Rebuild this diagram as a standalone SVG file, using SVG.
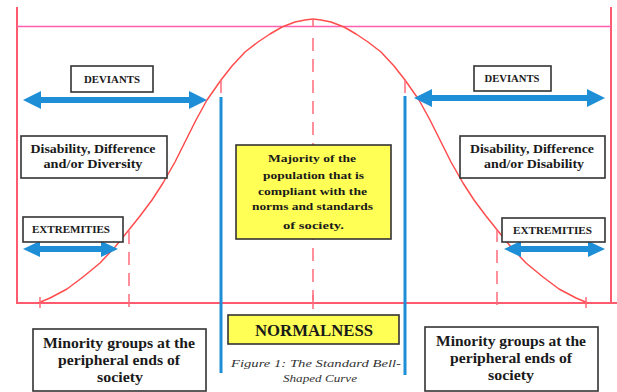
<svg xmlns="http://www.w3.org/2000/svg" width="617" height="392" viewBox="0 0 617 392">
<defs>
<style>
.frame{stroke:#ff5a6e;stroke-width:2;fill:none}
.pink{stroke:#ff5fb0;stroke-width:1.5;fill:none}
.curve{stroke:#ff4d4d;stroke-width:1.5;fill:none;stroke-linejoin:round}
.dash{stroke:#ff6b7a;stroke-width:1.5;stroke-dasharray:13 8;fill:none}
.tick{stroke:#ff6b7a;stroke-width:1.5}
.blue{stroke:#1e8fd6;stroke-width:3}
.arrow{fill:#1e8fd6}
.box{fill:#fff;stroke:#333;stroke-width:1.6}
.ybox{fill:#ffff55;stroke:#333;stroke-width:1.6}
text{font-family:"Liberation Serif","DejaVu Serif","Times New Roman",serif;font-weight:bold;fill:#1a1a1a;text-anchor:middle}
.small{font-size:9.5px}
.mid{font-size:12px}
.yel{font-size:11px}
.big{font-size:14px}
.norm{font-size:16.5px}
.cap{font-size:10.5px;font-style:italic;font-weight:normal;fill:#333}
</style>
</defs>
<g id="frame">
<line class="frame" x1="17" y1="7" x2="17" y2="304"/>
<line class="frame" x1="611" y1="7" x2="611" y2="304"/>
<line class="frame" x1="16" y1="303" x2="617" y2="303"/>
<line class="pink" x1="17" y1="26.5" x2="611" y2="26.5"/>
</g>
<g id="bell-curve">
<polyline class="curve" points="38,303 50,298 67,289 83,277 100,263 115,247 128,231 140,216 152,200 163,183 175,162 185,142 196,120 207,100 221,80 232,66 245,52 258,42 270,34 282,27 295,22 305,20 313,19 321,20 331,22 344,27 356,34 368,42 381,52 394,66 405,80 419,100 430,120 441,142 451,162 463,183 474,200 486,216 498,231 511,247 526,263 543,277 559,289 576,298 588,303"/>
<line class="tick" x1="313" y1="19" x2="313" y2="27"/>
<line class="dash" x1="313" y1="38" x2="313" y2="300"/>
<line class="tick" x1="313" y1="295" x2="313" y2="309"/>
<line class="dash" x1="221" y1="80" x2="221" y2="95"/>
<line class="dash" x1="405" y1="80" x2="405" y2="95"/>
<line class="dash" x1="129" y1="231" x2="129" y2="308"/>
<line class="dash" x1="497" y1="229" x2="497" y2="308"/>
<line class="tick" x1="40" y1="297" x2="40" y2="308"/>
<line class="tick" x1="586" y1="297" x2="586" y2="308"/>
</g>
<g id="connectors">
<line class="blue" x1="221" y1="97" x2="221" y2="373"/>
<line class="blue" x1="405" y1="96" x2="405" y2="375"/>
<path class="arrow" d="M23,100 L41,91 L41,97 L189,97 L189,91 L207,100 L189,109 L189,103 L41,103 L41,109 Z"/>
<path class="arrow" d="M414,98 L432,89 L432,95 L587,95 L587,89 L605,98 L587,107 L587,101 L432,101 L432,107 Z"/>
<path class="arrow" d="M23,249 L40,241 L40,246 L101,246 L101,241 L118,249 L101,257 L101,252 L40,252 L40,257 Z"/>
<path class="arrow" d="M504,249 L521,241 L521,246 L588,246 L588,241 L605,249 L588,257 L588,252 L521,252 L521,257 Z"/>
</g>
<g id="deviants-left">
<rect class="box" x="71" y="66" width="82" height="26"/>
<text class="small" x="112" y="82.5" textLength="56" lengthAdjust="spacingAndGlyphs">DEVIANTS</text>
</g>
<g id="deviants-right">
<rect class="box" x="474" y="66" width="77" height="25"/>
<text class="small" x="512" y="82" textLength="55" lengthAdjust="spacingAndGlyphs">DEVIANTS</text>
</g>
<g id="disability-left">
<rect class="box" x="21" y="136" width="146" height="42"/>
<text class="mid" x="93" y="152.5" textLength="125" lengthAdjust="spacingAndGlyphs">Disability, Difference</text>
<text class="mid" x="93" y="167.5" textLength="99" lengthAdjust="spacingAndGlyphs">and/or Diversity</text>
</g>
<g id="disability-right">
<rect class="box" x="460" y="136" width="145" height="42"/>
<text class="mid" x="532" y="152.5" textLength="124" lengthAdjust="spacingAndGlyphs">Disability, Difference</text>
<text class="mid" x="534" y="167.5" textLength="100" lengthAdjust="spacingAndGlyphs">and/or Disability</text>
</g>
<g id="majority">
<rect class="ybox" x="236" y="145" width="155" height="94"/>
<text class="yel" x="312" y="162" textLength="88" lengthAdjust="spacingAndGlyphs">Majority of the</text>
<text class="yel" x="313.5" y="178.5" textLength="101" lengthAdjust="spacingAndGlyphs">population that is</text>
<text class="yel" x="312.5" y="194.5" textLength="109" lengthAdjust="spacingAndGlyphs">compliant with the</text>
<text class="yel" x="312.5" y="210" textLength="121" lengthAdjust="spacingAndGlyphs">norms and standards</text>
<text class="yel" x="313.5" y="229" textLength="61" lengthAdjust="spacingAndGlyphs">of society.</text>
</g>
<g id="extremities-left">
<rect class="box" x="23" y="217" width="100" height="25"/>
<text class="small" x="71" y="233" textLength="78" lengthAdjust="spacingAndGlyphs">EXTREMITIES</text>
</g>
<g id="extremities-right">
<rect class="box" x="502" y="218" width="103" height="24"/>
<text class="small" x="552.5" y="233.5" textLength="79" lengthAdjust="spacingAndGlyphs">EXTREMITIES</text>
</g>
<g id="normalness">
<rect class="ybox" x="228" y="315" width="171" height="29"/>
<text class="norm" x="314" y="335.5" textLength="118" lengthAdjust="spacingAndGlyphs">NORMALNESS</text>
</g>
<g id="caption">
<text class="cap" x="316" y="367" textLength="170" lengthAdjust="spacingAndGlyphs">Figure 1: The Standard Bell-</text>
<text class="cap" x="320" y="382" textLength="74" lengthAdjust="spacingAndGlyphs">Shaped Curve</text>
</g>
<g id="minority-left">
<rect class="box" x="33" y="329" width="173" height="62"/>
<text class="big" x="119" y="347.5" textLength="152" lengthAdjust="spacingAndGlyphs">Minority groups at the</text>
<text class="big" x="119" y="364.5" textLength="122" lengthAdjust="spacingAndGlyphs">peripheral ends of</text>
<text class="big" x="120" y="381.5" textLength="46" lengthAdjust="spacingAndGlyphs">society</text>
</g>
<g id="minority-right">
<rect class="box" x="425" y="327" width="173" height="64"/>
<text class="big" x="511" y="346" textLength="150" lengthAdjust="spacingAndGlyphs">Minority groups at the</text>
<text class="big" x="511" y="363" textLength="122" lengthAdjust="spacingAndGlyphs">peripheral ends of</text>
<text class="big" x="511" y="380" textLength="46" lengthAdjust="spacingAndGlyphs">society</text>
</g>
</svg>
